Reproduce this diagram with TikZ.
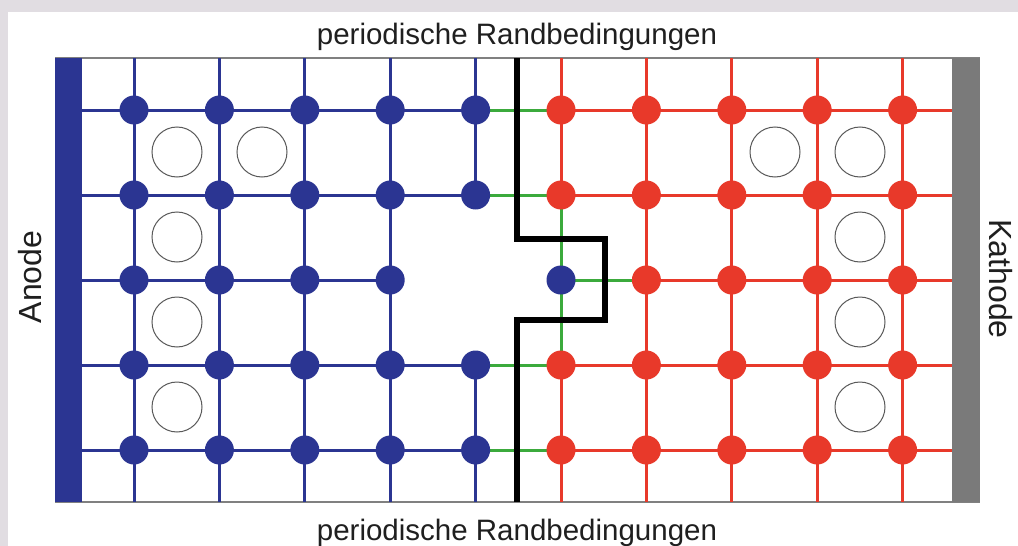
\documentclass[tikz,border=0pt]{standalone}
\usepackage{fontspec}
\setmainfont{Liberation Sans}
\definecolor{bgray}{HTML}{E1DDE2}
\definecolor{ablue}{HTML}{2B3592}
\definecolor{cred}{HTML}{E8392A}
\definecolor{lgreen}{HTML}{3BAA3C}
\definecolor{kgray}{HTML}{7A7A7A}
\begin{document}
\begin{tikzpicture}[x=1pt,y=-1pt,
 bline/.style={draw=ablue,line width=3pt},
 rline/.style={draw=cred,line width=3pt},
 gline/.style={draw=lgreen,line width=3pt},
 bdot/.style={circle,fill=ablue,minimum size=29pt,inner sep=0pt},
 rdot/.style={circle,fill=cred,minimum size=29pt,inner sep=0pt},
 hole/.style={circle,draw=black!65,line width=1pt,minimum size=50pt,inner sep=0pt},
 lbl/.style={font=\fontsize{29.5}{34}\selectfont,text=black!88,inner sep=0pt},
 side/.style={font=\fontsize{32}{36}\selectfont,text=black!88,inner sep=0pt},
 wall/.style={black,line width=5.5pt,miter limit=10}]
\useasboundingbox (0,0) rectangle (1018,546);
\fill[bgray] (0,0) rectangle (1018,546);
\fill[white] (8,12) rectangle (1018,546);
% grid coordinates
\foreach \i in {1,...,10} {
  \pgfmathsetmacro\xx{134+85.4*(\i-1)}
  \coordinate (t\i) at (\xx,58);
  \coordinate (u\i) at (\xx,502);
  \foreach \j in {1,...,5} {
    \pgfmathsetmacro\yy{110+85*(\j-1)}
    \coordinate (g\i-\j) at (\xx,\yy);
  }
}
\foreach \j in {1,...,5} {
  \pgfmathsetmacro\yy{110+85*(\j-1)}
  \coordinate (L\j) at (82,\yy);
  \coordinate (R\j) at (952,\yy);
}
% box outline
\draw[black!50,line width=1.2pt] (55,58) -- (980,58) (55,502) -- (980,502);
% vertical lines
\foreach \i in {1,...,4} {\draw[bline] (t\i) -- (u\i);}
\draw[bline] (t5) -- (g5-2) (g5-4) -- (u5);
\foreach \i in {7,...,10} {\draw[rline] (t\i) -- (u\i);}
\draw[rline] (t6) -- (g6-2) (g6-4) -- (u6);
\draw[gline] (g6-2) -- (g6-4);
% horizontal lines
\foreach \j in {1,2,4,5} {
  \draw[bline] (L\j) -- (g5-\j);
  \draw[gline] (g5-\j) -- (g6-\j);
  \draw[rline] (g6-\j) -- (R\j);
}
\draw[bline] (L3) -- (g4-3);
\draw[gline] (g6-3) -- (g7-3);
\draw[rline] (g7-3) -- (R3);
% electrodes
\node[fill=ablue,minimum width=27pt,minimum height=444pt,inner sep=0pt,anchor=north west] (anodebar) at (55,58) {};
\node[fill=kgray,minimum width=28pt,minimum height=444pt,inner sep=0pt,anchor=north west] (kathodebar) at (952,58) {};
% boundary
\coordinate (w1) at (517,58);
\coordinate (w2) at (517,239);
\coordinate (w3) at (605,239);
\coordinate (w4) at (605,320);
\coordinate (w5) at (517,320);
\coordinate (w6) at (517,502);
\draw[wall] (w1) -- (w2) -- (w3) -- (w4) -- (w5) -- (w6);
% atoms
\foreach \i in {1,...,5} {
  \foreach \j in {1,2,4,5} {\node[bdot] (a\i-\j) at (g\i-\j) {};}
}
\foreach \i in {1,...,4} {\node[bdot] (a\i-3) at (g\i-3) {};}
\node[bdot] (a6-3) at (g6-3) {};
\foreach \i in {6,...,10} {
  \foreach \j in {1,2,4,5} {\node[rdot] (a\i-\j) at (g\i-\j) {};}
}
\foreach \i in {7,...,10} {\node[rdot] (a\i-3) at (g\i-3) {};}
% holes
\node[hole] (h1) at (177,152) {};
\node[hole] (h2) at (262,152) {};
\node[hole] (h3) at (177,237) {};
\node[hole] (h4) at (177,322) {};
\node[hole] (h5) at (177,407) {};
\node[hole] (h6) at (775,152) {};
\node[hole] (h7) at (860,152) {};
\node[hole] (h8) at (860,237) {};
\node[hole] (h9) at (860,322) {};
\node[hole] (h10) at (860,407) {};
% labels
\node[lbl] (toplbl) at (517,37) {periodische Randbedingungen};
\node[lbl] (botlbl) at (517,533) {periodische Randbedingungen};
\node[side,rotate=90] (anode) at (30,277) {Anode};
\node[side,rotate=-90] (kathode) at (1001,279) {Kathode};
\end{tikzpicture}
\end{document}
